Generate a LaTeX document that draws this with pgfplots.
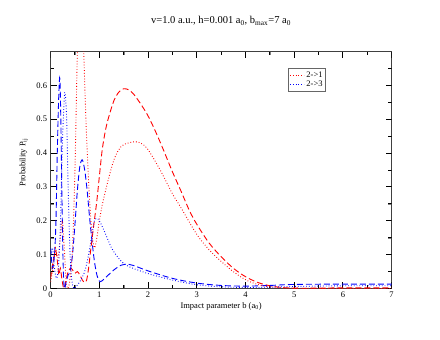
\documentclass[border=0pt]{standalone}
\usepackage{fontspec}
\setmainfont{Liberation Serif}
\usepackage{pgfplots}
\pgfplotsset{compat=1.18}

\begin{document}
\begin{tikzpicture}
\begin{axis}[
  scale only axis, width=341pt, height=237pt,
  xmin=0, xmax=7, ymin=0, ymax=0.7,
  xtick={0,1,2,3,4,5,6,7},
  minor xtick={0.5,1.5,2.5,3.5,4.5,5.5,6.5},
  ytick={0,0.1,0.2,0.3,0.4,0.5,0.6},
  yticklabels={0,0.1,0.2,0.3,0.4,0.5,0.6},
  minor ytick={0.05,0.15,0.25,0.35,0.45,0.55,0.65},
  xtick pos=both, ytick pos=both,
  tick align=inside, major tick length=6pt, minor tick length=3.5pt,
  major tick style={draw=black, line width=1pt},
  axis line style={black!75, line width=1pt},
  ticklabel style={font=\fontsize{8.5}{10}\selectfont},
  /pgf/number format/assume math mode=true,
  title={v=1.0 a.u., h=0.001 a\textsubscript{0}, b\textsubscript{max}=7 a\textsubscript{0}},
  title style={at={(0.5,1)}, anchor=base, yshift=22pt, font=\fontsize{10.5}{12}\selectfont},
  xlabel={Impact parameter b (a\textsubscript{0})},
  xlabel style={at={(0.5,0)}, anchor=base, yshift=-20pt, font=\fontsize{8.5}{10}\selectfont},
  legend style={at={(axis cs:4.88,0.65)}, anchor=north west, draw=black!60,
    font=\fontsize{8.5}{9}\selectfont, inner sep=1pt, row sep=-2pt},
  legend cell align=left,
  legend image code/.code={\draw[#1, line width=0.9pt] (0pt,0pt) -- (14pt,0pt);},
]
% frame ticks, drawn explicitly on all four sides
\pgfplotsinvokeforeach{0,1,2,3,4,5,6,7}{
  \draw[black, line width=1pt] (axis cs:#1,0) -- ++(0pt,6pt);
  \draw[black, line width=1pt] (axis cs:#1,0.7) -- ++(0pt,-6pt);
}
\pgfplotsinvokeforeach{0.5,1.5,2.5,3.5,4.5,5.5,6.5}{
  \draw[black, line width=1pt] (axis cs:#1,0) -- ++(0pt,3.5pt);
  \draw[black, line width=1pt] (axis cs:#1,0.7) -- ++(0pt,-3.5pt);
}
\pgfplotsinvokeforeach{0,0.1,0.2,0.3,0.4,0.5,0.6}{
  \draw[black, line width=1pt] (axis cs:0,#1) -- ++(6pt,0pt);
  \draw[black, line width=1pt] (axis cs:7,#1) -- ++(-6pt,0pt);
}
\pgfplotsinvokeforeach{0.05,0.15,0.25,0.35,0.45,0.55,0.65}{
  \draw[black, line width=1pt] (axis cs:0,#1) -- ++(3.5pt,0pt);
  \draw[black, line width=1pt] (axis cs:7,#1) -- ++(-3.5pt,0pt);
}
% 2->1 dashed
\addplot[red, line width=0.9pt, smooth, dash pattern=on 6pt off 3pt, forget plot] coordinates {
(0,0.03)(0.04,0.07)(0.08,0.1)(0.11,0.11)(0.14,0.08)(0.17,0.04)(0.2,0.06)(0.23,0.03)
(0.27,0.0)(0.31,0.02)(0.36,0.05)(0.41,0.06)(0.45,0.055)(0.5,0.045)(0.55,0.05)(0.6,0.04)
(0.65,0.025)(0.7,0.018)(0.74,0.025)(0.78,0.06)(0.82,0.11)(0.88,0.18)(0.95,0.26)(1.0,0.33)
(1.06,0.41)(1.13,0.47)(1.2,0.51)(1.3,0.555)(1.4,0.58)(1.5,0.59)(1.6,0.587)(1.7,0.575)
(1.85,0.545)(2.0,0.51)(2.15,0.465)(2.3,0.415)(2.5,0.345)(2.67,0.29)(2.85,0.23)(3.0,0.19)
(3.25,0.135)(3.5,0.094)(3.75,0.06)(4.0,0.035)(4.25,0.018)(4.5,0.008)(4.75,0.003)(5,0.001)
(5.5,0.001)(6,0.002)(7,0.002)};
% 2->3 dashed
\addplot[blue, line width=0.9pt, smooth, dash pattern=on 6pt off 3pt, forget plot] coordinates {
(0,0.12)(0.04,0.06)(0.08,0.1)(0.11,0.2)(0.14,0.42)(0.17,0.58)(0.19,0.62)(0.21,0.5)
(0.23,0.3)(0.25,0.12)(0.27,0.02)(0.29,0.0)(0.32,0.02)(0.36,0.04)(0.4,0.05)(0.45,0.1)
(0.5,0.19)(0.55,0.29)(0.6,0.36)(0.65,0.38)(0.7,0.35)(0.75,0.29)(0.8,0.21)(0.85,0.14)
(0.9,0.08)(0.95,0.04)(1.0,0.022)(1.05,0.022)(1.15,0.035)(1.3,0.055)(1.45,0.069)(1.55,0.072)
(1.7,0.068)(2.0,0.052)(2.5,0.03)(3.0,0.016)(3.5,0.009)(4.0,0.007)(4.5,0.009)(5.0,0.012)
(6.0,0.013)(7.0,0.013)};
% 2->1 dotted
\addplot[red, line width=0.9pt, smooth, dash pattern=on 0.8pt off 2pt] coordinates {
(0,0.02)(0.05,0.06)(0.1,0.12)(0.15,0.09)(0.2,0.15)(0.24,0.2)(0.28,0.12)(0.32,0.02)
(0.36,0.0)(0.4,0.03)(0.45,0.12)(0.5,0.35)(0.55,0.7)(0.6,0.9)(0.65,0.85)(0.68,0.7)
(0.72,0.52)(0.75,0.41)(0.8,0.26)(0.85,0.16)(0.9,0.12)(0.95,0.15)(1.0,0.2)(1.08,0.26)
(1.2,0.33)(1.3,0.38)(1.4,0.41)(1.5,0.425)(1.7,0.433)(1.85,0.43)(2.0,0.41)(2.25,0.35)
(2.5,0.28)(2.67,0.24)(3.0,0.16)(3.25,0.115)(3.5,0.08)(3.75,0.05)(4.0,0.026)(4.25,0.012)
(4.5,0.005)(5,0.001)(7,0.0)};
\addlegendentry{2->1}
% 2->3 dotted
\addplot[blue, line width=0.9pt, smooth, dash pattern=on 0.8pt off 2pt] coordinates {
(0,0.09)(0.04,0.12)(0.08,0.06)(0.12,0.03)(0.16,0.06)(0.2,0.18)(0.24,0.42)(0.28,0.56)
(0.3,0.575)(0.33,0.5)(0.36,0.3)(0.4,0.1)(0.44,0.02)(0.48,0.0)(0.52,0.005)(0.6,0.02)
(0.7,0.05)(0.78,0.1)(0.85,0.16)(0.9,0.2)(0.96,0.207)(1.02,0.195)(1.1,0.17)(1.16,0.15)
(1.25,0.12)(1.37,0.094)(1.5,0.074)(1.65,0.062)(1.8,0.054)(2.0,0.044)(2.25,0.034)(2.5,0.025)
(3.0,0.011)(3.5,0.005)(4.0,0.003)(4.5,0.004)(5.0,0.006)(6.0,0.008)(7.0,0.008)};
\addlegendentry{2->3}
\coordinate (O) at (rel axis cs:0,0);
\end{axis}
\node[rotate=90, font=\fontsize{8.5}{10}\selectfont] at ([shift={(-27pt,126pt)}]O) {Probability P\textsubscript{ij}};
\path ([shift={(-50.6pt,-51.5pt)}]O) rectangle ++(440pt,340pt);
\end{tikzpicture}
\end{document}
